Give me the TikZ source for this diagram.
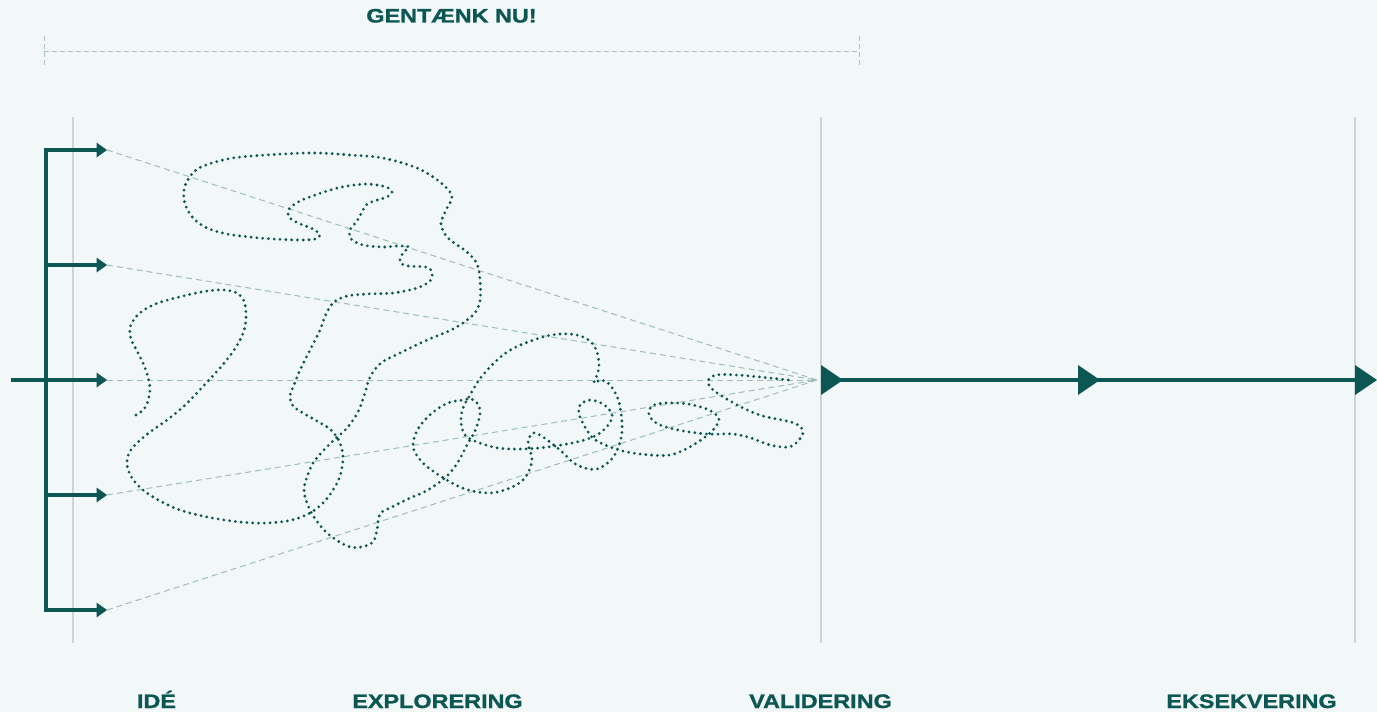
\documentclass[tikz,border=0pt]{standalone}
\usepackage{fontspec}
\newfontfamily\labfont[FakeStretch=1.2,FakeBold=1.2]{Liberation Sans}
\usetikzlibrary{arrows.meta}
\definecolor{deepteal}{HTML}{0C5654}
\definecolor{bgtint}{HTML}{F2F8F8}
\definecolor{guidegrey}{HTML}{C6D7D5}
\definecolor{raygrey}{HTML}{9CBDB9}
\definecolor{spangrey}{HTML}{A9C0BD}
\begin{document}
\begin{tikzpicture}[x=1pt,y=-1pt,
  guideline/.style={draw=guidegrey, line width=1.6pt},
  rayline/.style={draw=raygrey, line width=1pt, dash pattern=on 6pt off 4pt},
  spanline/.style={draw=spangrey, line width=0.9pt, dash pattern=on 5pt off 3pt},
  barline/.style={draw=deepteal, line width=4pt, line cap=rect},
  feed/.style={draw=deepteal, line width=4pt},
  mainline/.style={draw=deepteal, line width=4.5pt},
  bigtip/.style={fill=deepteal},
  wander/.style={draw=deepteal, line width=3.1pt, dash pattern=on 0pt off 5.8pt, line cap=round},
  lab/.style={text=deepteal, font=\labfont\bfseries\fontsize{19.5}{19.5}\selectfont, anchor=base, inner sep=0pt}]
\fill[bgtint] (0,0) rectangle (1377,712);
\useasboundingbox (0,0) rectangle (1377,712);

% guide lines
\coordinate (g1a) at (73,117);   \coordinate (g1b) at (73,643);
\coordinate (g2a) at (821,117);  \coordinate (g2b) at (821,643);
\coordinate (g3a) at (1355,117); \coordinate (g3b) at (1355,643);
\draw[guideline] (g1a) -- (g1b);
\draw[guideline] (g2a) -- (g2b);
\draw[guideline] (g3a) -- (g3b);

% top span
\coordinate (sL) at (44,51); \coordinate (sR) at (859,51);
\coordinate (sLt) at (44,36); \coordinate (sLb) at (44,68);
\coordinate (sRt) at (859,36); \coordinate (sRb) at (859,68);
\draw[spanline] (sL) -- (sR);
\draw[spanline] (sLt) -- (sLb);
\draw[spanline] (sRt) -- (sRb);
\node[lab] (gentaenk) at (451.5,22.5) {GENTÆNK NU!};

% left fan
\coordinate (in) at (11,380);
\coordinate (focus) at (817,380);
\foreach \i/\yy in {1/150,2/265,3/380,4/495,5/610} {
  \coordinate (b\i) at (46,\yy);
  \coordinate (h\i) at (98,\yy);
  \coordinate (t\i) at (107,\yy);
}
\foreach \i in {1,...,5} { \draw[rayline] (t\i) -- (focus); }

\draw[barline] (b1) -- (b5);
\draw[feed] (in) -- (b3);
\foreach \i in {1,...,5} {
  \draw[feed] (b\i) -- (h\i);
  \fill[bigtip] (t\i) -- ++(-10.5,-7.5) -- ++(0,15) -- cycle;
}

% scribble
\draw[wander] plot[smooth, tension=0.55] coordinates {
(136,415) (142,411) (147,404) (150,390) (148,377) (143,363) (137,351) (131,339) (130,328) (135,318) (144,310) (158,303) (183,296) (207,291) (224,290) (237,293) (244,301) (246,313) (245,327) (240,340) (232,353) (220,368) (208,381) (196,394) (183,407) (167,420) (150,432) (137,443) (129,453) (127,465) (132,478) (143,490) (160,501) (180,510) (207,517) (240,522) (267,523) (292,520) (310,513) (323,503) (333,490) (340,476) (343,458) (340,443) (331,430) (317,421) (303,413) (293,406) (290,396) (294,385) (300,370) (310,350) (320,330) (326,314) (334,302) (347,296) (367,294) (393,293) (417,288) (430,281) (432,272) (426,267) (408,266) (400,262) (403,253) (409,247) (398,246) (383,247) (363,245) (351,239) (350,230) (357,221) (362,212) (366,205) (374,201) (387,197) (392,192) (386,187) (367,184) (342,187) (318,194) (300,201) (289,209) (289,217) (298,223) (313,229) (320,235) (315,239) (300,240) (273,239) (250,237) (227,234) (207,228) (193,218) (185,204) (184,190) (189,178) (201,167) (233,158) (283,154) (317,153) (350,155) (383,158) (417,168) (440,182) (452,196) (446,210) (441,224) (448,238) (467,252) (477,264) (480,280) (480,301) (473,315) (453,329) (427,340) (400,353) (381,363) (370,377) (365,393) (358,412) (347,428) (334,440) (323,451) (313,463) (307,477) (304,490) (307,503) (314,517) (327,533) (347,546) (361,547) (373,542) (377,530) (380,514) (392,507) (410,498) (428,490) (447,476) (458,462) (467,445) (475,431) (480,414) (478,404) (471,399) (463,400) (448,403) (432,413) (418,429) (413,447) (423,463) (442,477) (465,489) (490,493) (510,488) (525,478) (532,460) (528,443) (533,433) (543,437) (560,450) (577,465) (597,469) (614,456) (622,432) (619,402) (610,385) (601,380) (594,383) (597,375) (599,366) (597,352) (590,341) (577,335) (560,334) (543,337) (518,346) (503,355) (490,367) (479,380) (470,395) (463,408) (461,422) (465,435) (477,442) (498,448) (523,449) (548,447) (577,442) (597,435) (609,424) (612,414) (603,404) (590,400) (580,405) (579,414) (585,427) (594,439) (610,447) (627,452) (650,455) (670,455) (686,449) (701,440) (713,430) (719,419) (709,410) (688,404) (665,403) (652,406) (649,415) (658,424) (678,430) (707,434) (733,434) (751,438) (770,445) (789,447) (799,440) (803,431) (794,423) (763,416) (743,408) (725,398) (712,389) (708,381) (716,375) (737,375) (760,377) (789,380)
};

% main line
\coordinate (v1) at (821,380); \coordinate (v2) at (1078,380); \coordinate (v3) at (1355,380);
\draw[mainline] (v1) -- (v3);
\fill[bigtip] (v1) ++(0,-15) -- ++(22,15) -- ++(-22,15) -- cycle;
\fill[bigtip] (v2) ++(0,-15) -- ++(22,15) -- ++(-22,15) -- cycle;
\fill[bigtip] (v3) ++(0,-15) -- ++(22,15) -- ++(-22,15) -- cycle;

% labels
\node[lab] (ide) at (156.5,708) {IDÉ};
\node[lab] (expl) at (437.5,708) {EXPLORERING};
\node[lab] (vali) at (820.5,708) {VALIDERING};
\node[lab] (eksek) at (1251.5,708) {EKSEKVERING};
\end{tikzpicture}
\end{document}
